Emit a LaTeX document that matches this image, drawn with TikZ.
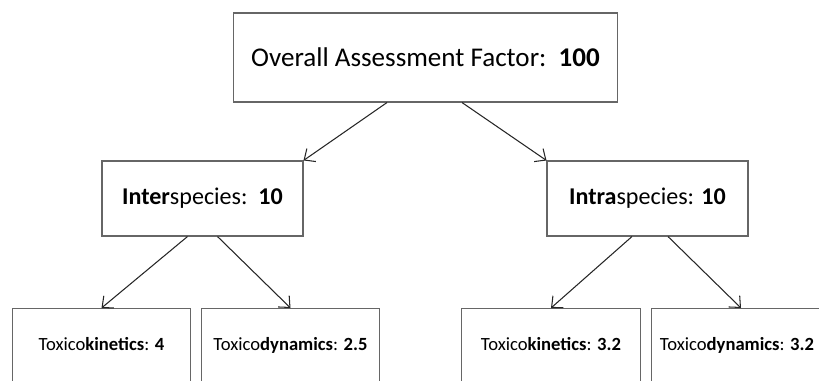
\documentclass[tikz,border=0pt]{standalone}
\usepackage{fontspec}
\setmainfont{Carlito}
\usetikzlibrary{arrows.meta}

\begin{document}
\begin{tikzpicture}[x=0.02cm,y=-0.02cm,
  box/.style={draw=black!60,line width=0.6pt,inner sep=0pt},
  lowbox/.style={box,anchor=north,minimum width=3.57cm,minimum height=2cm},
  lowtext/.style={font=\fontsize{10.6}{13}\selectfont,text height=1.6ex,text depth=.3ex},
  link/.style={draw=black!85,line width=0.6pt,-{Straight Barb[length=5pt,width=9pt]}}]
 \useasboundingbox (0,0) rectangle (819,380);
 \clip (0,0) rectangle (819,380);

 % top
 \node[box,minimum width=7.7cm,minimum height=1.78cm,font=\fontsize{15.4}{19}\selectfont]
   (overall) at (425.5,57.5) {Overall Assessment Factor:\ \ \textbf{100}};

 % second row
 \node[box,minimum width=4.02cm,minimum height=1.5cm,font=\fontsize{13.7}{16}\selectfont]
   (inter) at (202.5,198.5) {\textbf{Inter}species:\ \ \textbf{10}};
 \node[box,minimum width=4.02cm,minimum height=1.5cm,font=\fontsize{13.7}{16}\selectfont]
   (intra) at (647.5,198.5) {\textbf{Intra}species: \textbf{10}};

 % bottom row
 \node[lowbox] (kin1) at (101.5,308) {};
 \node[lowbox] (dyn1) at (290.5,308) {};
 \node[lowbox] (kin2) at (551,308) {};
 \node[lowbox] (dyn2) at (741,308) {};
 \node[lowtext] (kin1txt) at (101.5,345) {Toxico\textbf{kinetics}: \textbf{4}};
 \node[lowtext] (dyn1txt) at (290.5,345) {Toxico\textbf{dynamics}: \textbf{2.5}};
 \node[lowtext] (kin2txt) at (551,345) {Toxico\textbf{kinetics}: \textbf{3.2}};
 \node[lowtext] (dyn2txt) at (737,345) {Toxico\textbf{dynamics}: \textbf{3.2}};

 \draw[link] ([xshift=-0.77cm]overall.south) -- (inter.north east);
 \draw[link] ([xshift=0.73cm]overall.south) -- (intra.north west);
 \draw[link] ([xshift=-0.3cm]inter.south) -- (kin1.north);
 \draw[link] ([xshift=0.3cm]inter.south) -- (dyn1.north);
 \draw[link] ([xshift=-0.31cm]intra.south) -- (kin2.north);
 \draw[link] ([xshift=0.41cm]intra.south) -- (dyn2.north);
\end{tikzpicture}
\end{document}
